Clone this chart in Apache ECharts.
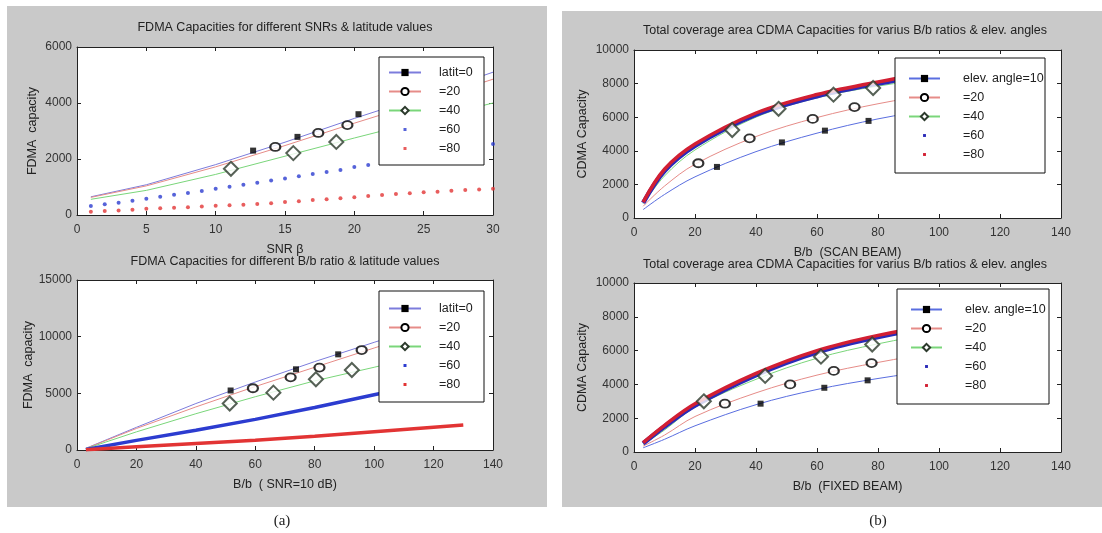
<!DOCTYPE html>
<html>
<head>
<meta charset="utf-8">
<script src="https://cdn.jsdelivr.net/npm/echarts@6/dist/echarts.min.js"></script>
<style>
  html, body { margin: 0; padding: 0; background: #fff; }
  #chart { width: 1102px; height: 533px; }
</style>
</head>
<body>
<div id="chart"></div>
<script>
// (a) top: FDMA capacity vs SNR
const snrLineX = [1, 5, 10, 15, 20, 25, 30];
const snrLat0 = [650, 1080, 1800, 2600, 3450, 4250, 5100];
const snrLat20 = [630, 1040, 1720, 2480, 3280, 4050, 4850];
const snrLat40 = [560, 880, 1450, 2100, 2750, 3380, 4000];
const snrDotX = [1, 2, 3, 4, 5, 6, 7, 8, 9, 10, 11, 12, 13, 14, 15, 16, 17, 18, 19, 20, 21, 22, 23, 24, 25, 26, 27, 28, 29, 30];
const snrLat60 = [320, 380, 440, 510, 580, 650, 720, 790, 860, 940, 1010, 1080, 1150, 1230, 1300, 1380, 1460, 1540, 1610, 1710, 1790, 1870, 1950, 2030, 2110, 2190, 2270, 2360, 2450, 2540];
const snrLat80 = [120, 140, 160, 190, 220, 240, 260, 280, 300, 330, 350, 370, 395, 420, 460, 490, 535, 560, 595, 630, 680, 715, 750, 775, 810, 830, 870, 895, 915, 940];
const snrSquares = [[12.7, 2300], [15.9, 2790], [20.3, 3600]];
const snrCircles = [[14.3, 2430], [17.4, 2930], [19.5, 3210]];
const snrDiamonds = [[11.1, 1650], [15.6, 2210], [18.7, 2610]];

// (a) bottom: FDMA capacity vs B/b
const bbX = [3, 20, 40, 60, 80, 100, 130];
const bbLat0 = [150, 2000, 4100, 6000, 7800, 9500, 12000];
const bbLat20 = [140, 1900, 3800, 5600, 7300, 9000, 11500];
const bbLat40 = [120, 1600, 3200, 4700, 6100, 7300, 9200];
const bbLat60 = [50, 850, 1750, 2700, 3750, 4880, 6500];
const bbLat80 = [20, 280, 570, 860, 1220, 1620, 2200];
const bbSquares = [[51.7, 5250], [73.7, 7120], [87.9, 8440]];
const bbCircles = [[59.2, 5450], [71.9, 6410], [81.6, 7270], [95.8, 8820]];
const bbDiamonds = [[51.4, 4100], [66.1, 5060], [80.4, 6240], [92.5, 7060]];

// (b) top: CDMA capacity, scan beam
const scanX = [3, 10, 20, 40, 60, 80, 100, 130];
const scanEl10 = [500, 1400, 2450, 3950, 5050, 5900, 6500, 7200];
const scanEl20 = [700, 1900, 3200, 4850, 5980, 6800, 7400, 8000];
const scanEl40 = [850, 2500, 4050, 6000, 7150, 7850, 8350, 8900];
const scanEl60 = [900, 2800, 4300, 6150, 7250, 8000, 8600, 9200];
const scanEl80 = [950, 2900, 4400, 6250, 7350, 8100, 8700, 9300];
const scanSquares = [[27.2, 3040], [48.5, 4500], [62.6, 5200], [76.9, 5780]];
const scanCircles = [[21.1, 3260], [37.9, 4740], [58.6, 5900], [72.3, 6600]];
const scanDiamonds = [[32.2, 5240], [47.4, 6500], [65.4, 7340], [78.4, 7740]];

// (b) bottom: CDMA capacity, fixed beam
const fixX = [3, 10, 20, 40, 60, 80, 100, 130];
const fixEl10 = [250, 750, 1550, 2800, 3700, 4350, 4850, 5400];
const fixEl20 = [350, 1000, 2100, 3500, 4550, 5300, 5900, 6500];
const fixEl40 = [450, 1300, 2650, 4300, 5550, 6400, 7050, 7700];
const fixEl60 = [500, 1500, 2750, 4550, 5900, 6800, 7450, 8150];
const fixEl80 = [550, 1580, 2850, 4650, 6000, 6900, 7550, 8250];
const fixSquares = [[41.5, 2860], [62.4, 3800], [76.6, 4240]];
const fixCircles = [[29.8, 2860], [51.2, 4000], [65.5, 4800], [77.9, 5260]];
const fixDiamonds = [[22.9, 3000], [43, 4500], [61.3, 5640], [78.1, 6360]];

const latNames = ["latit=0", "=20", "=40", "=60", "=80"];
const elevNames = ["elev. angle=10", "=20", "=40", "=60", "=80"];

const FONT = '"Liberation Sans", Arial, sans-serif';
const zip = (xs, ys) => xs.map((x, i) => [x, ys[i]]);
const dotIcon = "path://M0,0M32,0M32,9M0,9M14.5,3h3v3h-3z";

const grids = [
  { left: 77, top: 47, width: 416, height: 168 },
  { left: 77, top: 280, width: 416, height: 170 },
  { left: 634, top: 50, width: 427, height: 168 },
  { left: 634, top: 283, width: 427, height: 169 }
];

function axes(g, xr, yr, xName, yName, yGap) {
  const base = {
    gridIndex: g, type: "value",
    axisLine: { show: true, onZero: false, lineStyle: { color: "#222", width: 1 } },
    axisTick: { show: true, inside: true, length: 4, lineStyle: { color: "#222" } },
    splitLine: { show: false },
    nameTextStyle: { fontSize: 12.5, fontFamily: FONT, color: "#222" }
  };
  const lab = { fontSize: 12, fontFamily: FONT, color: "#333", formatter: v => String(v) };
  const x = [
    Object.assign({}, base, { position: "bottom", min: xr[0], max: xr[1], interval: xr[2],
      name: xName, nameLocation: "middle", nameGap: 28, axisLabel: Object.assign({ margin: 9 }, lab) }),
    Object.assign({}, base, { position: "top", min: xr[0], max: xr[1], interval: xr[2], axisLabel: { show: false } })
  ];
  const y = [
    Object.assign({}, base, { position: "left", min: yr[0], max: yr[1], interval: yr[2],
      name: yName, nameLocation: "middle", nameGap: yGap, axisLabel: Object.assign({ margin: 5 }, lab) }),
    Object.assign({}, base, { position: "right", min: yr[0], max: yr[1], interval: yr[2], axisLabel: { show: false } })
  ];
  return { x, y };
}

const axisSets = [
  axes(0, [0, 30, 5], [0, 6000, 2000], "SNR β", "FDMA  capacity", 38),
  axes(1, [0, 140, 20], [0, 15000, 5000], "B/b  ( SNR=10 dB)", "FDMA  capacity", 38),
  axes(2, [0, 140, 20], [0, 10000, 2000], "B/b  (SCAN BEAM)", "CDMA Capacity", 45),
  axes(3, [0, 140, 20], [0, 10000, 2000], "B/b  (FIXED BEAM)", "CDMA Capacity", 45)
];

function line(g, name, data, color, width, symbol, symColor, smooth) {
  return {
    name: g + "|" + name, type: "line", xAxisIndex: g * 2, yAxisIndex: g * 2,
    data, showSymbol: false, symbol: symbol, symbolSize: 6,
    smooth: smooth ? 0.35 : false,
    lineStyle: { color, width }, itemStyle: { color: symColor || color, borderWidth: 0 },
    silent: true
  };
}
function marks(g, data, kind) {
  const st = {
    sq: { symbol: "rect", symbolSize: 6, itemStyle: { color: "#000" } },
    ci: { symbol: "emptyCircle", symbolSize: [10, 8], itemStyle: { color: "#000", borderWidth: 2 } },
    di: { symbol: "emptyDiamond", symbolSize: 14, itemStyle: { color: "#2c3a2c", borderWidth: 1.3 } }
  }[kind];
  return Object.assign({ name: g + "|m" + kind, type: "scatter", xAxisIndex: g * 2, yAxisIndex: g * 2, data, silent: true, z: 3 }, st);
}
function dots(g, name, data, color) {
  return { name: g + "|" + name, type: "scatter", xAxisIndex: g * 2, yAxisIndex: g * 2, data,
    symbol: "circle", symbolSize: 4, itemStyle: { color }, silent: true };
}

const C = { lav: "#7c7cdc", pink: "#e68c88", green: "#7ad67a", blue: "#2c3cd0", red: "#e23434",
  blueT: "#2a2ab8", redT: "#d21f33", blue10: "#5a6ee0" };

const series = [
  // panel 0
  line(0, latNames[0], zip(snrLineX, snrLat0), C.lav, 1, "rect", "#000"),
  line(0, latNames[1], zip(snrLineX, snrLat20), C.pink, 1, "emptyCircle", "#000"),
  line(0, latNames[2], zip(snrLineX, snrLat40), C.green, 1, "emptyDiamond", "#2c3a2c"),
  dots(0, latNames[3], zip(snrDotX, snrLat60), C.blue),
  dots(0, latNames[4], zip(snrDotX, snrLat80), C.red),
  marks(0, snrSquares, "sq"), marks(0, snrCircles, "ci"), marks(0, snrDiamonds, "di"),
  // panel 1
  line(1, latNames[0], zip(bbX, bbLat0), C.lav, 1, "rect", "#000"),
  line(1, latNames[1], zip(bbX, bbLat20), C.pink, 1, "emptyCircle", "#000"),
  line(1, latNames[2], zip(bbX, bbLat40), C.green, 1, "emptyDiamond", "#2c3a2c"),
  line(1, latNames[3], zip(bbX, bbLat60), C.blue, 3.5, "rect"),
  line(1, latNames[4], zip(bbX, bbLat80), C.red, 3.5, "rect"),
  marks(1, bbSquares, "sq"), marks(1, bbCircles, "ci"), marks(1, bbDiamonds, "di"),
  // panel 2
  line(2, elevNames[0], zip(scanX, scanEl10), C.blue10, 1, "rect", "#000", true),
  line(2, elevNames[1], zip(scanX, scanEl20), C.pink, 1, "emptyCircle", "#000", true),
  line(2, elevNames[2], zip(scanX, scanEl40), C.green, 1, "emptyDiamond", "#2c3a2c", true),
  line(2, elevNames[3], zip(scanX, scanEl60), C.blueT, 4.5, "rect", null, true),
  line(2, elevNames[4], zip(scanX, scanEl80), C.redT, 3.5, "rect", null, true),
  marks(2, scanSquares, "sq"), marks(2, scanCircles, "ci"), marks(2, scanDiamonds, "di"),
  // panel 3
  line(3, elevNames[0], zip(fixX, fixEl10), C.blue10, 1, "rect", "#000", true),
  line(3, elevNames[1], zip(fixX, fixEl20), C.pink, 1, "emptyCircle", "#000", true),
  line(3, elevNames[2], zip(fixX, fixEl40), C.green, 1, "emptyDiamond", "#2c3a2c", true),
  line(3, elevNames[3], zip(fixX, fixEl60), C.blueT, 4.5, "rect", null, true),
  line(3, elevNames[4], zip(fixX, fixEl80), C.redT, 3.5, "rect", null, true),
  marks(3, fixSquares, "sq"), marks(3, fixCircles, "ci"), marks(3, fixDiamonds, "di")
];

function legend(g, names, pos, iconW, textPad, textW, padding, gap) {
  return {
    left: pos[0], top: pos[1], orient: "vertical", selectedMode: false,
    backgroundColor: "#fff", borderColor: "#111", borderWidth: 1, borderRadius: 0,
    padding, itemGap: gap, itemWidth: iconW, itemHeight: 9,
    itemStyle: { borderWidth: 0 },
    data: names.map((n, i) => i >= 3 ? { name: g + "|" + n, icon: dotIcon } : { name: g + "|" + n }),
    formatter: n => n.split("|")[1],
    textStyle: { fontSize: 12.5, lineHeight: 12, fontFamily: FONT, color: "#222", width: textW, padding: [0, 0, 0, textPad] }
  };
}

const titleFont = "12.5px " + FONT;
function label(text, x, y, font) {
  return { type: "text", x, y, silent: true,
    style: { text, font: font || titleFont, fill: "#222", align: "center", verticalAlign: "middle" } };
}

const option = {
  animation: false,
  backgroundColor: "#fff",
  grid: grids.map(g => Object.assign({ show: true, backgroundColor: "#fff", borderWidth: 0 }, g)),
  xAxis: axisSets.flatMap(a => a.x),
  yAxis: axisSets.flatMap(a => a.y),
  legend: [
    legend(0, latNames, [379, 57], 32, 13, 40, [9, 5, 10, 9], 6),
    legend(1, latNames, [379, 291], 32, 13, 40, [11, 5, 11, 9], 6),
    legend(2, elevNames, [895, 58], 31, 18, 81, [14, 1, 12, 13], 6),
    legend(3, elevNames, [897, 289], 31, 18, 83, [14, 1, 12, 13], 6)
  ],
  series,
  graphic: [
    { type: "rect", z: -10, silent: true, shape: { x: 7, y: 6, width: 540, height: 501 }, style: { fill: "#c9c9c9" } },
    { type: "rect", z: -10, silent: true, shape: { x: 562, y: 11, width: 540, height: 496 }, style: { fill: "#c9c9c9" } },
    label("FDMA Capacities for different SNRs & latitude values", 285, 28),
    label("FDMA Capacities for different B/b ratio & latitude values", 285, 262),
    label("Total coverage area CDMA Capacities for varius B/b ratios & elev. angles", 845, 31),
    label("Total coverage area CDMA Capacities for varius B/b ratios & elev. angles", 845, 265),
    label("(a)", 282, 521, '15px "Liberation Serif", "Times New Roman", serif'),
    label("(b)", 878, 521, '15px "Liberation Serif", "Times New Roman", serif')
  ]
};

const chart = echarts.init(document.getElementById("chart"));
chart.setOption(option);
</script>
</body>
</html>
